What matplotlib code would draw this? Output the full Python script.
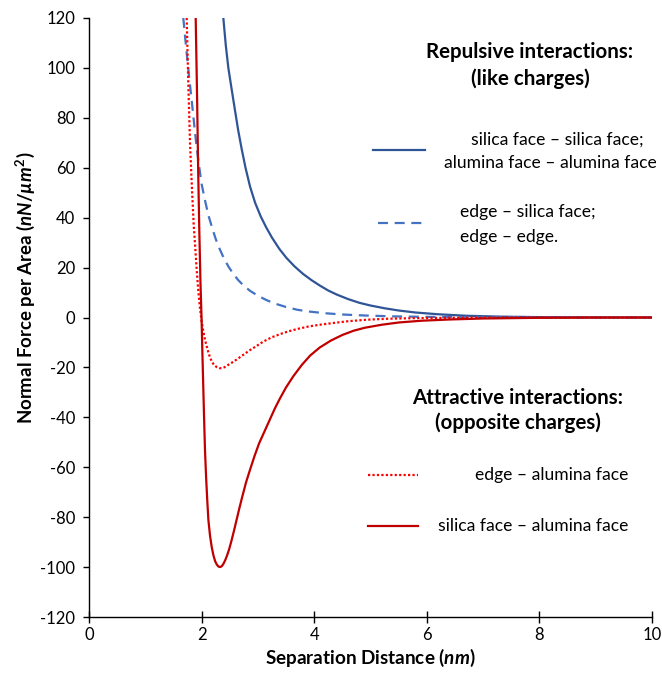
import matplotlib
matplotlib.use('Agg')
import matplotlib.pyplot as plt
from matplotlib.lines import Line2D

plt.rcParams['font.family'] = ['Lato', 'DejaVu Sans']
plt.rcParams['mathtext.fontset'] = 'custom'
plt.rcParams['mathtext.rm'] = 'Lato:bold'
plt.rcParams['mathtext.it'] = 'Lato:italic:bold'
plt.rcParams['mathtext.bf'] = 'Lato:bold'
plt.rcParams['axes.unicode_minus'] = False

# silica face - silica face; alumina face - alumina face
x_ss = [2.386, 2.43, 2.475, 2.53, 2.593, 2.65, 2.712, 2.78, 2.86, 2.95, 3.05,
        3.15, 3.25, 3.38, 3.51, 3.65, 3.8, 3.95, 4.1, 4.25, 4.4, 4.6, 4.8,
        5.0, 5.25, 5.5, 5.8, 6.2, 6.7, 7.3, 8.0, 9.0, 10.0]
y_ss = [120, 109, 100, 92, 83, 75, 67.5, 60, 52.5, 46, 40.5,
        36, 32, 27.5, 23.8, 20.5, 17.5, 15, 12.8, 10.8, 9.2, 7.4, 5.9,
        4.8, 3.7, 2.8, 2.0, 1.3, 0.7, 0.35, 0.15, 0.05, 0.0]

# edge - silica face; edge - edge
x_es = [1.675, 1.70, 1.735, 1.78, 1.824, 1.87, 1.913, 1.96, 2.0, 2.06, 2.12,
        2.18, 2.25, 2.32, 2.40, 2.48, 2.56, 2.65, 2.75, 2.86, 3.0, 3.15,
        3.3, 3.5, 3.7, 3.9, 4.2, 4.5, 4.9, 5.4, 6.0, 7.0, 8.0, 10.0]
y_es = [120, 114, 106, 96, 87, 77, 68, 60, 53.5, 47, 41,
        36.5, 31.5, 27.5, 23.5, 20.3, 17.6, 15, 12.7, 10.7, 8.7, 7.0,
        5.6, 4.2, 3.1, 2.4, 1.7, 1.2, 0.8, 0.45, 0.25, 0.1, 0.04, 0.0]

# edge - alumina face
x_ea = [1.735, 1.76, 1.794, 1.83, 1.86, 1.883, 1.91, 1.94, 1.97, 2.0, 2.03,
        2.06, 2.09, 2.12, 2.15, 2.18, 2.22, 2.27, 2.32, 2.36, 2.40, 2.45,
        2.50, 2.56, 2.65, 2.75, 2.85, 2.97, 3.10, 3.25, 3.4, 3.55, 3.7,
        3.9, 4.1, 4.34, 4.6, 4.93, 5.3, 5.8, 6.5, 7.5, 10.0]
y_ea = [120, 97, 70, 51, 37, 29.5, 20, 11, 4, -1.5, -5.5,
        -8.8, -11.5, -14, -16, -17.6, -19, -19.9, -20.3, -20.3, -20, -19.3,
        -18.6, -17.8, -16.4, -14.8, -13.2, -11.5, -9.6, -7.9, -6.6, -5.5, -4.6,
        -3.6, -2.9, -2.2, -1.5, -0.9, -0.5, -0.25, -0.1, -0.03, 0.0]

# silica face - alumina face
x_sa = [1.895, 1.92, 1.94, 1.96, 1.98, 2.0, 2.015, 2.03, 2.045, 2.06, 2.08,
        2.10, 2.12, 2.15, 2.18, 2.21, 2.24, 2.27, 2.30, 2.33, 2.36, 2.39,
        2.42, 2.45, 2.49, 2.53, 2.58, 2.62, 2.67, 2.72, 2.79, 2.86, 2.94,
        3.02, 3.10, 3.2, 3.3, 3.39, 3.5, 3.63, 3.78, 3.93, 4.1, 4.3, 4.5,
        4.7, 4.9, 5.2, 5.5, 5.9, 6.4, 7.0, 8.0, 9.0, 10.0]
y_sa = [120, 88, 58, 34, 14, -1, -15, -28, -41, -53, -64,
        -73, -81, -87.5, -92, -95.3, -97.6, -99, -99.8, -100, -99.6, -98.6,
        -97.2, -95.5, -92.8, -89.5, -85, -81.2, -76.5, -72, -66, -61, -55.5,
        -50.5, -46.5, -41.5, -36.5, -32.5, -28, -23.5, -19, -15.2, -12, -9.2, -7.0,
        -5.3, -4.1, -2.9, -2.0, -1.3, -0.8, -0.4, -0.12, -0.03, 0.0]

x_ticks = [0, 2, 4, 6, 8, 10]
y_ticks = list(range(-120, 121, 20))

c_ss = '#2F5597'
c_es = '#4472C4'
c_ea = '#FF0000'
c_sa = '#C00000'
dash = (0, (4.5, 3))
dot = (0, (1, 1))

W, H = 662, 678
fig = plt.figure(figsize=(W / 100, H / 100), dpi=100)
L, R, T, B = 89, 652, 18, 617
ax = fig.add_axes([L / W, 1 - B / H, (R - L) / W, (B - T) / H])

ax.plot(x_ss, y_ss, color=c_ss, lw=1.6)
ax.plot(x_es, y_es, color=c_es, lw=1.6, linestyle=dash)
ax.plot(x_ea, y_ea, color=c_ea, lw=1.6, linestyle=dot)
ax.plot(x_sa, y_sa, color=c_sa, lw=1.6)

ax.set_xlim(0, 10)
ax.set_ylim(-120, 120)
ax.set_xticks(x_ticks)
ax.set_yticks(y_ticks)
ax.spines['top'].set_visible(False)
ax.spines['right'].set_visible(False)
for s in ['left', 'bottom']:
    ax.spines[s].set_linewidth(1.0)
ax.tick_params(axis='y', direction='out', length=4, width=1.0, labelsize=12, pad=6)
ax.tick_params(axis='x', direction='inout', length=8, width=1.0, labelsize=12, pad=3)

ax.set_xlabel(r'Separation Distance ($\mathit{nm}$)', fontsize=13.6,
              fontweight='bold', labelpad=3)
ax.set_ylabel(r'Normal Force per Area ($\mathit{nN/µm^2}$)', fontsize=13.4,
              fontweight='bold')
ax.yaxis.set_label_coords(-0.092, 0.549)


# helpers: picture pixels -> axes fraction for the annotation block
def ax_xy(px, py):
    return (px - L) / (R - L), (B - py) / (B - T)


def txt(px, py, s, ha='center', bold=False, size=12.6):
    x, y = ax_xy(px, py)
    ax.text(x, y, s, transform=ax.transAxes, ha=ha, va='center',
            fontsize=size, fontweight='bold' if bold else 'normal')


def key(px0, px1, py, **kw):
    x0, y0 = ax_xy(px0, py)
    x1, _ = ax_xy(px1, py)
    ax.add_line(Line2D([x0, x1], [y0, y0], transform=ax.transAxes, **kw))


txt(530, 52, 'Repulsive interactions:', bold=True, size=14.8)
txt(530, 79, '(like charges)', bold=True, size=14.8)
key(373, 425, 150, color=c_ss, lw=1.6)
txt(557, 140, 'silica face – silica face;')
txt(550, 163, 'alumina face – alumina face')
key(378, 428, 223, color=c_es, lw=1.6, linestyle=dash)
txt(460, 212, 'edge – silica face;', ha='left')
txt(460, 237, 'edge – edge.', ha='left')

txt(518, 398, 'Attractive interactions:', bold=True, size=14.8)
txt(518, 423, '(opposite charges)', bold=True, size=14.8)
key(368, 418, 475, color=c_ea, lw=1.6, linestyle=dot)
txt(628, 475, 'edge – alumina face', ha='right')
key(368, 418, 526, color=c_sa, lw=1.6)
txt(628, 526, 'silica face – alumina face', ha='right')

fig.savefig('out.png', dpi=100)
